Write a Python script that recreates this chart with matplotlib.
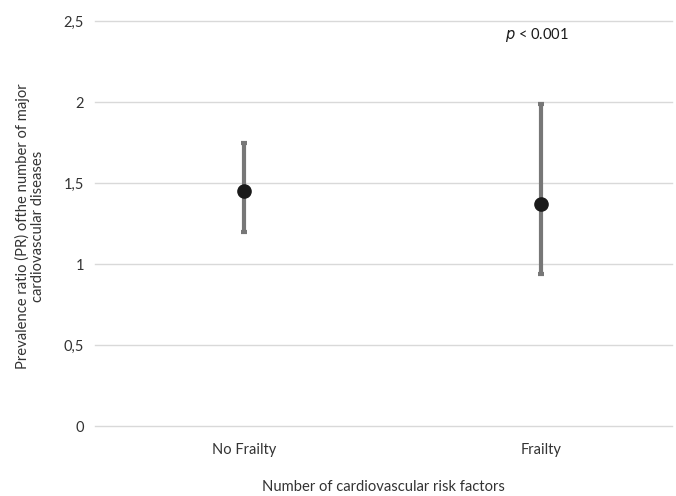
import matplotlib

matplotlib.use("Agg")

import matplotlib.pyplot as plt
import numpy as np

# values
categories = ["No Frailty", "Frailty"]
pr = [1.45, 1.37]
ci_low = [1.20, 0.94]
ci_high = [1.75, 1.99]
y_ticks = [0, 0.5, 1, 1.5, 2, 2.5]
y_tick_labels = ["0", "0,5", "1", "1,5", "2", "2,5"]

plt.rcParams["font.family"] = ["Lato", "DejaVu Sans"]

fig = plt.figure(figsize=(6.76, 4.96), dpi=100)
ax = fig.add_axes([95 / 676, 1 - 426 / 496, (672 - 95) / 676, (426 - 21) / 496])

x = np.arange(len(categories))
pr_a = np.array(pr)
yerr = np.vstack([pr_a - np.array(ci_low), np.array(ci_high) - pr_a])

ax.errorbar(
    x, pr_a, yerr=yerr, fmt="none", ecolor="#777777", elinewidth=3,
    capsize=2.5, capthick=3, zorder=2,
)
ax.plot(x, pr_a, "o", color="#1a1a1a", markersize=9.5, zorder=3)

ax.set_ylim(0, 2.5)
ax.set_xlim(-0.5, 1.441)
ax.set_yticks(y_ticks)
ax.set_yticklabels(y_tick_labels)
ax.set_xticks(x)
ax.set_xticklabels(categories)
ax.tick_params(length=0, labelsize=10.5, colors="#333333", pad=8)
ax.tick_params(axis="x", pad=12)
ax.grid(axis="y", color="#d9d9d9", linewidth=1)
ax.set_axisbelow(True)
# edge gridlines (0 and 2.5) would otherwise be half clipped
for gl in ax.get_ygridlines():
    gl.set_clip_on(False)
for s in ax.spines.values():
    s.set_visible(False)

# two-line y label, placed by hand so it sits where the reference has it
fig.text(30 / 676, 1 - 226 / 496,
         "Prevalence ratio (PR) ofthe number of major\ncardiovascular diseases",
         rotation=90, ha="center", va="center", fontsize=10.6,
         color="#333333", linespacing=1.15)
fig.text((95 + 672) / 2 / 676, 1 - 487 / 496,
         "Number of cardiovascular risk factors", ha="center", va="center",
         fontsize=10.6, color="#333333")

ax.text(0.987, 2.414, "$\\it{p}$ < 0.001", ha="center", va="center",
        fontsize=10.5, color="#1a1a1a")

fig.savefig("out.png", dpi=100, facecolor="white")
plt.close(fig)
